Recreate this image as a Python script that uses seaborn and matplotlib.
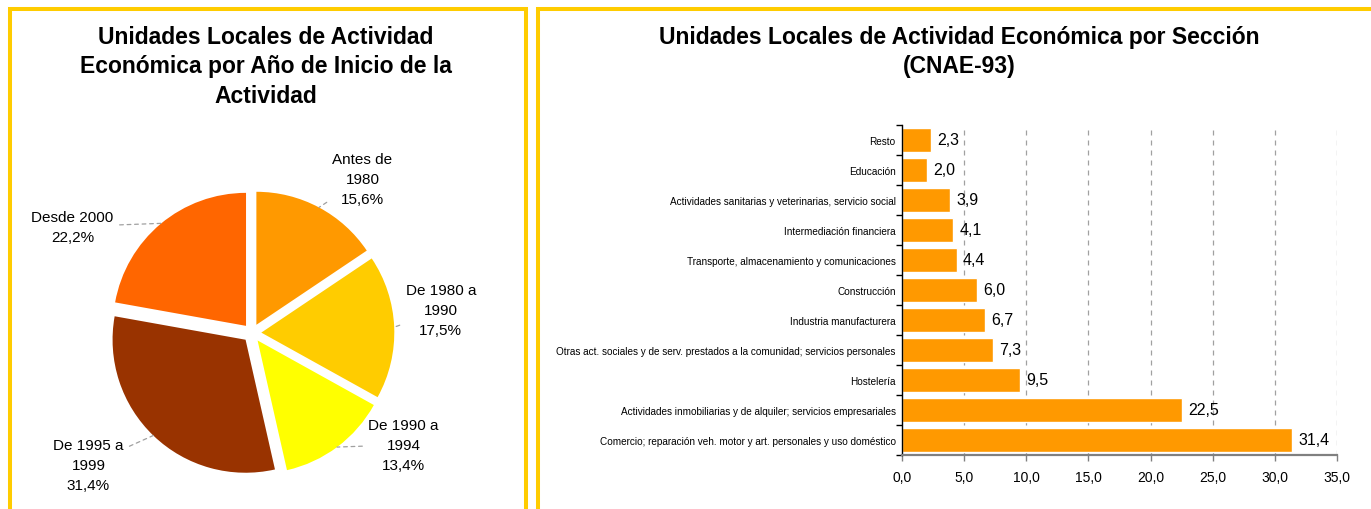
import numpy as np
import pandas as pd
import matplotlib
matplotlib.use("Agg")
import matplotlib.pyplot as plt
from matplotlib.patches import Rectangle
from matplotlib.ticker import FixedLocator, FuncFormatter
import seaborn as sns

# datos del gráfico de sectores
periodos = ["Antes de\n1980", "De 1980 a\n1990", "De 1990 a\n1994", "De 1995 a\n1999", "Desde 2000"]
porcentajes = [15.6, 17.5, 13.4, 31.4, 22.2]
colores_pie = ["#FF9900", "#FFCC00", "#FFFF00", "#993300", "#FF6600"]
# posición de las etiquetas (en radios del círculo)
pos_etiquetas = [(0.83, 1.16), (1.42, 0.17), (1.14, -0.84), (-1.23, -0.99), (-1.35, 0.80)]

# datos del gráfico de barras
secciones = [
    "Resto",
    "Educación",
    "Actividades sanitarias y veterinarias, servicio social",
    "Intermediación financiera",
    "Transporte, almacenamiento y comunicaciones",
    "Construcción",
    "Industria manufacturera",
    "Otras act. sociales y de serv. prestados a la comunidad; servicios personales",
    "Hostelería",
    "Actividades inmobiliarias y de alquiler; servicios empresariales",
    "Comercio; reparación veh. motor y art. personales y uso doméstico",
]
valores = [2.3, 2.0, 3.9, 4.1, 4.4, 6.0, 6.7, 7.3, 9.5, 22.5, 31.4]

sns.set_style("white", {"text.color": "black", "axes.labelcolor": "black",
                        "xtick.color": "black", "ytick.color": "black"})
plt.rcParams["font.family"] = ["Liberation Sans", "DejaVu Sans"]

W, H = 1371, 510
fig = plt.figure(figsize=(W / 100, H / 100), dpi=100)

def px(x0, y0, w, h):
    # rectángulo en píxeles (origen arriba-izquierda) -> fracción de figura
    return [x0 / W, 1 - (y0 + h) / H, w / W, h / H]

# marcos amarillos
for x0, x1 in [(10, 526), (538, 1400)]:
    r = Rectangle((x0 / W, -0.1), (x1 - x0) / W, (500 / H) + 0.1,
                  transform=fig.transFigure, fill=False,
                  edgecolor="#FFCC00", linewidth=2.9)
    fig.add_artist(r)

# ---------------- sectores ----------------
R = 133
cx, cy = 252, 334
L = 175
ax1 = fig.add_axes(px(cx - L, cy - L, 2 * L, 2 * L))
ax1.pie(porcentajes, colors=colores_pie, startangle=90, counterclock=False,
        explode=[0.07] * 5, radius=1, wedgeprops=dict(linewidth=0))
ax1.set_xlim(-L / R, L / R)
ax1.set_ylim(-L / R, L / R)
ax1.set_aspect("equal")
ax1.axis("off")

ang = 90
for lab, p, (lx, ly) in zip(periodos, porcentajes, pos_etiquetas):
    mid = np.deg2rad(ang - p * 3.6 / 2)
    ang -= p * 3.6
    ex, ey = 1.07 * np.cos(mid), 1.07 * np.sin(mid)
    txt = f"{lab}\n{p:.1f}%".replace(".", ",")
    ax1.annotate(txt, xy=(ex, ey), xytext=(lx, ly), ha="center", va="center",
                 fontsize=11, linespacing=1.55, color="black",
                 arrowprops=dict(arrowstyle="-", color="#A0A0A0", lw=0.9,
                                 linestyle=(0, (3, 3)), shrinkA=2, shrinkB=0))

fig.text(266 / W, 1 - 67 / H,
         "Unidades Locales de Actividad\nEconómica por Año de Inicio de la\nActividad",
         ha="center", va="center", fontsize=16.5, fontweight="bold", linespacing=1.37)

# ---------------- barras ----------------
ax2 = fig.add_axes(px(902, 126, 435, 330))
df = pd.DataFrame({"seccion": secciones, "valor": valores})
sns.barplot(data=df, x="valor", y="seccion", orient="h", color="#FF9900",
            saturation=1, width=0.78, ax=ax2)
ax2.set_xlim(0, 35)
ax2.set_ylim(len(secciones) - 0.5, -0.5)
ax2.set_xlabel("")
ax2.set_ylabel("")
ax2.xaxis.set_major_locator(FixedLocator(np.arange(0, 36, 5)))
ax2.xaxis.set_major_formatter(FuncFormatter(lambda v, _: f"{v:.1f}".replace(".", ",")))
ax2.tick_params(axis="x", bottom=True, length=4, width=1, color="#808080",
                labelcolor="black", labelsize=10, pad=7)
ax2.tick_params(axis="y", which="major", left=False, labelsize=7.2, pad=1,
                labelcolor="black")
ax2.yaxis.set_minor_locator(FixedLocator(np.arange(-0.5, len(secciones), 1)))
ax2.tick_params(axis="y", which="minor", left=True, length=4, width=1, color="black")
ax2.grid(False)
for v in np.arange(5, 36, 5):
    ax2.axvline(v, color="#A0A0A0", lw=0.9, linestyle=(0, (4, 4)), zorder=0)
for s in ["top", "right"]:
    ax2.spines[s].set_visible(False)
ax2.spines["left"].set_color("black")
ax2.spines["left"].set_linewidth(1)
ax2.spines["bottom"].set_color("#808080")
ax2.spines["bottom"].set_linewidth(1.6)
ax2.set_axisbelow(True)
ax2.bar_label(ax2.containers[0],
              labels=[f"{v:.1f}".replace(".", ",") for v in valores],
              padding=4.5, fontsize=11.5, color="black")

fig.text(959 / W, 1 - 52 / H,
         "Unidades Locales de Actividad Económica por Sección\n(CNAE-93)",
         ha="center", va="center", fontsize=16.5, fontweight="bold", linespacing=1.37)

fig.savefig("out.png", dpi=100)
